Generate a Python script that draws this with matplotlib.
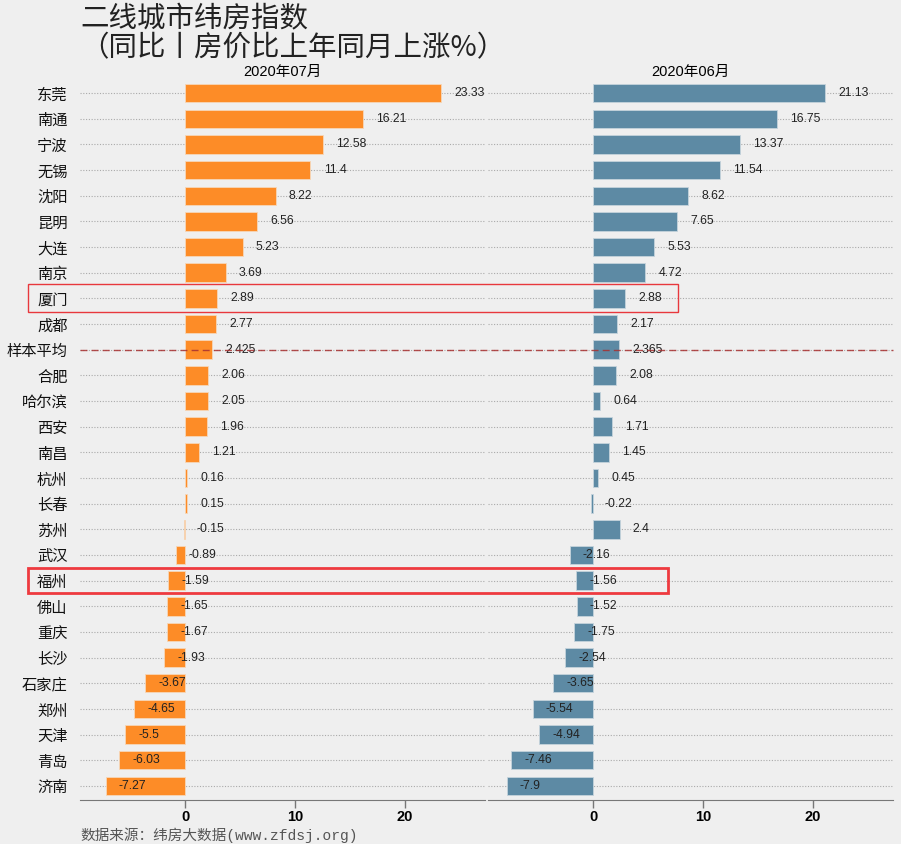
import matplotlib
matplotlib.use("Agg")
import matplotlib.pyplot as plt
from matplotlib.patches import Rectangle
from matplotlib.lines import Line2D
import matplotlib.transforms as mtransforms

plt.rcParams['font.family'] = ['Noto Sans CJK SC', 'DejaVu Sans']

cities = ["东莞", "南通", "宁波", "无锡", "沈阳", "昆明", "大连", "南京", "厦门", "成都",
          "样本平均", "合肥", "哈尔滨", "西安", "南昌", "杭州", "长春", "苏州", "武汉", "福州",
          "佛山", "重庆", "长沙", "石家庄", "郑州", "天津", "青岛", "济南"]
jul = [23.33, 16.21, 12.58, 11.4, 8.22, 6.56, 5.23, 3.69, 2.89, 2.77,
       2.425, 2.06, 2.05, 1.96, 1.21, 0.16, 0.15, -0.15, -0.89, -1.59,
       -1.65, -1.67, -1.93, -3.67, -4.65, -5.5, -6.03, -7.27]
jun = [21.13, 16.75, 13.37, 11.54, 8.62, 7.65, 5.53, 4.72, 2.88, 2.17,
       2.365, 2.08, 0.64, 1.71, 1.45, 0.45, -0.22, 2.4, -2.16, -1.56,
       -1.52, -1.75, -2.54, -3.65, -5.54, -4.94, -7.46, -7.9]
panel_titles = ["2020年07月", "2020年06月"]
xticks = [0, 10, 20]
title = "二线城市纬房指数\n（同比丨房价比上年同月上涨%）"
source = "数据来源：纬房大数据(www.zfdsj.org)"
highlight_soft = "厦门"
highlight_strong = "福州"
avg_name = "样本平均"

bg = "#efefef"
fig = plt.figure(figsize=(9.01, 8.44), dpi=100, facecolor=bg)

W = 405 / 901
bottom = 44 / 844
height = (800 - 79) / 844
ax1 = fig.add_axes([80 / 901, bottom, W, height])
ax2 = fig.add_axes([488 / 901, bottom, W, height])

ypos = list(range(len(cities)))
colors = ["#fd8c27", "#5d8aa4"]
for ax, vals, col, ttl in [(ax1, jul, colors[0], panel_titles[0]), (ax2, jun, colors[1], panel_titles[1])]:
    ax.set_facecolor(bg)
    ax.barh(ypos, vals, height=0.72, color=col, edgecolor="#f6d7b8" if col == colors[0] else "#c5d3dc",
            linewidth=0.6, zorder=3)
    for y, v in zip(ypos, vals):
        ax.text(v + 1.2, y, f"{v:g}", ha="left", va="center", fontsize=8.8,
                family=["Liberation Sans", "DejaVu Sans"], color="#222222", zorder=4)
    ax.set_xlim(-9.6, 27.3)
    ax.set_ylim(len(cities) - 0.45, -0.55)
    ax.set_yticks(ypos)
    ax.grid(axis="y", linestyle=(0, (1, 1.5)), color="#aaaaaa", linewidth=0.8, zorder=0)
    ax.grid(axis="x", visible=False)
    for s in ["top", "right", "left"]:
        ax.spines[s].set_visible(False)
    ax.spines["bottom"].set_color("#777777")
    ax.set_xticks(xticks)
    ax.set_xticklabels([str(t) for t in xticks], fontsize=10.5, fontweight="bold",
                       family=["Liberation Sans", "DejaVu Sans"])
    ax.tick_params(axis="x", direction="out", length=6, width=1, color="#777777", pad=1)
    ax.set_title(ttl, fontsize=10.5, pad=2, family=["Liberation Sans", "Noto Sans CJK SC"])

ax1.set_yticklabels(cities, fontsize=11, fontweight="medium", color="#111111")
ax1.tick_params(axis="y", length=0, pad=9)
ax2.set_yticklabels([])
ax2.tick_params(axis="y", length=0)

# average dashed line across both panels
tr = mtransforms.blended_transform_factory(fig.transFigure, ax1.transData)
ia = cities.index(avg_name)
fig.add_artist(Line2D([80 / 901, 893 / 901], [ia, ia], transform=tr, color="#a83030",
                      linestyle=(0, (5, 3)), linewidth=1.0, alpha=0.85, zorder=6))

# highlight boxes
ih = cities.index(highlight_soft)
fig.add_artist(Rectangle((28 / 901, ih - 0.55), (678 - 28) / 901, 1.1, transform=tr,
                         fill=False, edgecolor="#e8383d", linewidth=1.0, zorder=7))
iq = cities.index(highlight_strong)
fig.add_artist(Rectangle((28 / 901, iq - 0.5), (668 - 28) / 901, 1.0, transform=tr,
                         fill=False, edgecolor="#ee3a3f", linewidth=2.0, zorder=7))

fig.text(80 / 901, 1 - 4 / 844, title, ha="left", va="top", fontsize=20.5, color="#222222",
         linespacing=0.98)
fig.text(80 / 901, 1 - 835 / 844, source, ha="left", va="center", fontsize=10.5, color="#555555",
         family=["Liberation Mono", "Noto Sans CJK SC"])

fig.savefig("out.png", dpi=100, facecolor=bg)
